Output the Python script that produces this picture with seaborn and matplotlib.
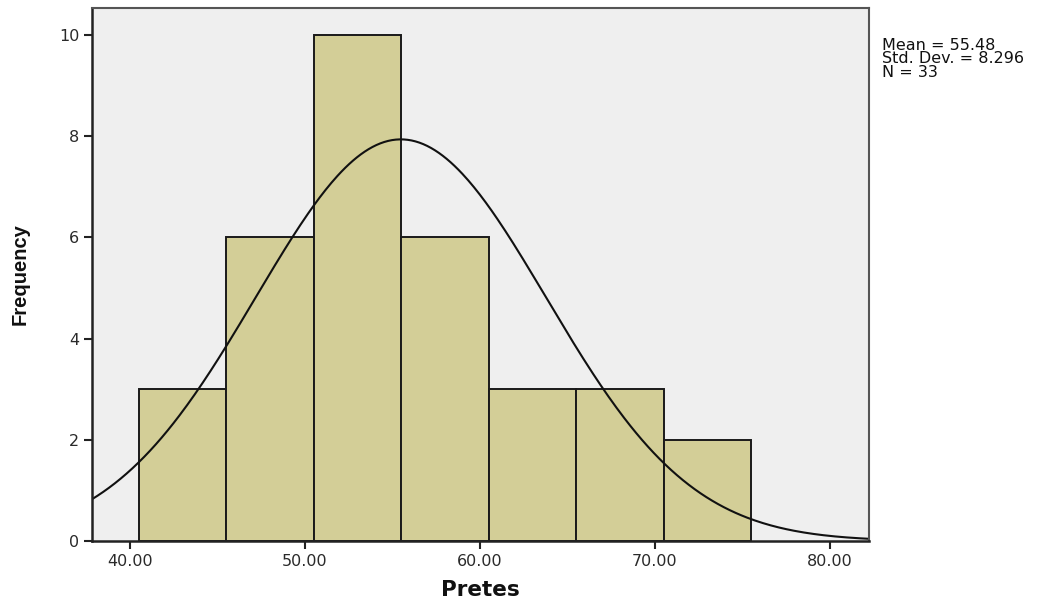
import numpy as np
import pandas as pd
import matplotlib
matplotlib.use("Agg")
import matplotlib.pyplot as plt
import seaborn as sns

# Histogram of pretest scores
bin_edges = [40.5, 45.5, 50.5, 55.5, 60.5, 65.5, 70.5, 75.5]
counts = [3, 6, 10, 6, 3, 3, 2]
mean_val = 55.48
std_val = 8.296
n_obs = 33
x_ticks = [40, 50, 60, 70, 80]
x_tick_labels = ["40.00", "50.00", "60.00", "70.00", "80.00"]
y_ticks = [0, 2, 4, 6, 8, 10]

sns.set_theme(style="white")
plt.rcParams["font.family"] = ["DejaVu Sans"]

fig = plt.figure(figsize=(10.45, 6.01), dpi=100)
ax = fig.add_axes([0.088, 0.0998, 0.7436, 0.8869])
ax.set_facecolor("#EFEFEF")

centers = [(a + b) / 2 for a, b in zip(bin_edges[:-1], bin_edges[1:])]
df = pd.DataFrame({"Pretes": centers, "count": counts})
sns.histplot(data=df, x="Pretes", weights="count", bins=bin_edges, ax=ax,
             color="#D3CE97", alpha=1, edgecolor="#1a1a1a", linewidth=1.4)

# Fitted normal curve scaled to bin width and sample size
width = bin_edges[1] - bin_edges[0]
xs = np.linspace(37.8, 82.3, 400)
ys = n_obs * width * np.exp(-0.5 * ((xs - mean_val) / std_val) ** 2) / (std_val * np.sqrt(2 * np.pi))
sns.lineplot(x=xs, y=ys, ax=ax, color="#111111", linewidth=1.5)

ax.set_xlim(37.83, 82.23)
ax.set_ylim(0, 10.53)
ax.set_xticks(x_ticks)
ax.set_xticklabels(x_tick_labels, fontsize=11.5, color="#2a2a2a")
ax.set_yticks(y_ticks)
ax.set_yticklabels([str(v) for v in y_ticks], fontsize=11.5, color="#2a2a2a")
ax.tick_params(axis="both", which="both", direction="out", length=6, width=1.5,
               color="#222222", bottom=True, left=True, pad=3)

for side in ["left", "bottom"]:
    ax.spines[side].set_color("#222222")
    ax.spines[side].set_linewidth(1.8)
for side in ["top", "right"]:
    ax.spines[side].set_color("#555555")
    ax.spines[side].set_linewidth(1.5)

ax.set_xlabel("Pretes", fontsize=15.5, fontweight="bold", labelpad=8,
              color="#111111")
ax.set_ylabel("Frequency", fontsize=14.5, fontweight="bold", labelpad=21,
              family=["Liberation Sans", "DejaVu Sans"], color="#111111")

fig.text(0.844, 0.937, "Mean = 55.48\nStd. Dev. = 8.296\nN = 33",
         fontsize=11.5, va="top", ha="left", color="#111111", linespacing=0.86)

fig.savefig("out.png", dpi=100)
